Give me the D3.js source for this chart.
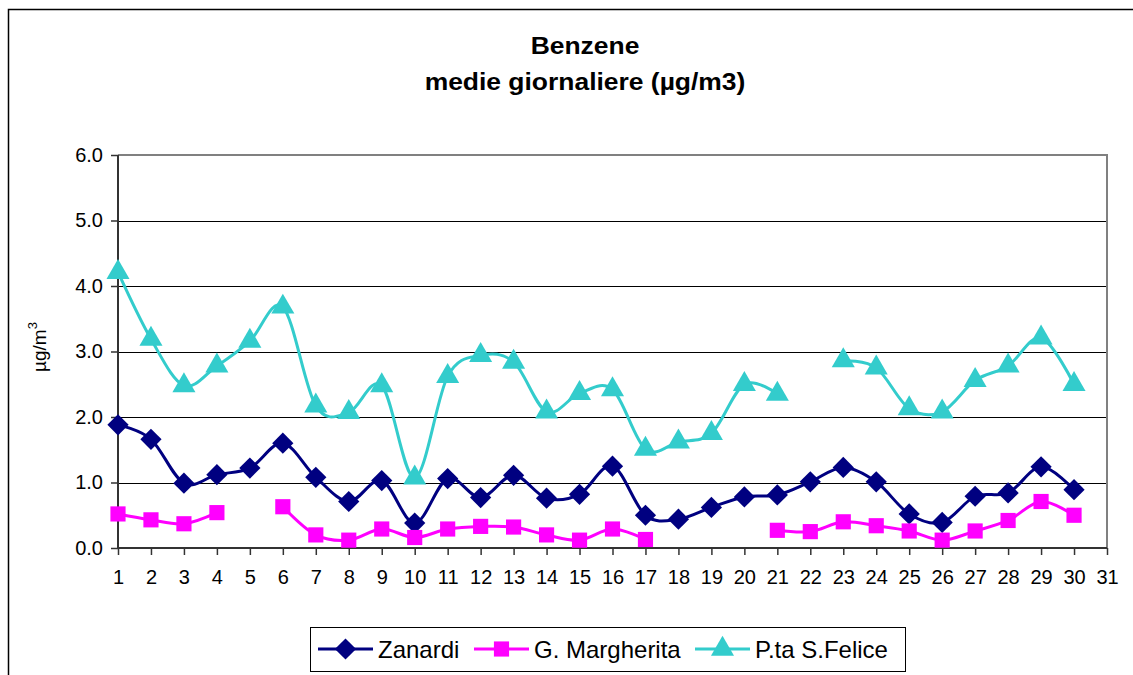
<!DOCTYPE html>
<html>
<head>
<meta charset="utf-8">
<script src="https://cdn.jsdelivr.net/npm/d3@7"></script>
<style>
  body { margin: 0; background: #fff; }
  text { font-family: "Liberation Sans", Arial, sans-serif; }
</style>
</head>
<body>
<svg id="chart" width="1133" height="675"></svg>
<script>
// days of the month on the x axis
var days = d3.range(1, 32);
var yTicks = [0, 1, 2, 3, 4, 5, 6];

var seriesNames = ["Zanardi", "G. Margherita", "P.ta S.Felice"];
var seriesColors = ["#000080", "#ff00ff", "#33cccc"];
var seriesMarkers = ["diamond", "square", "triangle"];

var zanardi = [1.88, 1.66, 0.99, 1.12, 1.22, 1.60, 1.08, 0.71, 1.03, 0.38,
               1.06, 0.77, 1.11, 0.76, 0.82, 1.25, 0.50, 0.44, 0.62, 0.78,
               0.81, 1.01, 1.23, 1.01, 0.52, 0.39, 0.79, 0.84, 1.24, 0.89];
var margherita = [0.52, 0.43, 0.37, 0.54, null, 0.63, 0.20, 0.12, 0.29, 0.16,
                  0.29, 0.33, 0.32, 0.20, 0.12, 0.29, 0.13, null, null, null,
                  0.27, 0.25, 0.40, 0.34, 0.26, 0.12, 0.26, 0.42, 0.71, 0.50];
var sfelice = [4.21, 3.19, 2.48, 2.78, 3.16, 3.68, 2.17, 2.07, 2.48, 1.07,
               2.62, 2.94, 2.84, 2.08, 2.36, 2.42, 1.51, 1.62, 1.75, 2.50,
               2.35, null, 2.86, 2.75, 2.13, 2.08, 2.56, 2.78, 3.21, 2.50];

var allSeries = [zanardi, margherita, sfelice];

var params = {
  "plot": { "left": 118, "right": 1107, "top": 155, "bottom": 548 }
};

var svg = d3.select("#chart");

var scale = {
  "x": d3.scaleLinear().domain([1, 31]).range([params.plot.left, params.plot.right]),
  "y": d3.scaleLinear().domain([0, 6]).range([params.plot.bottom, params.plot.top])
};

// outer chart frame
svg.append("rect")
  .attr("x", 8.5).attr("y", 9.5)
  .attr("width", 1140).attr("height", 700)
  .attr("fill", "none")
  .attr("stroke", "#000")
  .attr("stroke-width", 1.5);

// title
var title = svg.append("text")
  .attr("text-anchor", "middle")
  .attr("font-weight", "bold")
  .attr("font-size", 23)
  .attr("transform", "translate(585,0) scale(1.15,1)");
title.append("tspan").attr("x", 0).attr("y", 54).text("Benzene");
title.append("tspan").attr("x", 0).attr("y", 90).text("medie giornaliere (µg/m3)");

// gridlines
svg.append("g")
  .selectAll("line")
  .data(yTicks.slice(1, -1))
  .enter()
  .append("line")
  .attr("x1", params.plot.left).attr("x2", params.plot.right)
  .attr("y1", function(d) { return Math.round(scale.y(d)) + 0.5; })
  .attr("y2", function(d) { return Math.round(scale.y(d)) + 0.5; })
  .attr("stroke", "#000")
  .attr("stroke-width", 1);

// plot area border (top and right)
svg.append("path")
  .attr("d", "M" + params.plot.left + "," + params.plot.top +
             "H" + params.plot.right + "V" + params.plot.bottom)
  .attr("fill", "none")
  .attr("stroke", "#808080")
  .attr("stroke-width", 2);

// axes
var axis = {
  "x": d3.axisBottom(scale.x).tickValues(days).tickSize(7).tickPadding(15)
         .tickFormat(d3.format("d")),
  "y": d3.axisLeft(scale.y).tickValues(yTicks).tickSize(7).tickPadding(8)
         .tickFormat(d3.format(".1f"))
};

var gx = svg.append("g")
  .attr("transform", "translate(0," + params.plot.bottom + ")")
  .call(axis.x);
var gy = svg.append("g")
  .attr("transform", "translate(" + params.plot.left + ",0)")
  .call(axis.y);

[gx, gy].forEach(function(g) {
  g.select(".domain").attr("stroke", "#333").attr("stroke-width", 2);
  g.selectAll(".tick line").attr("stroke", "#333").attr("stroke-width", 1.5);
  g.selectAll(".tick text").attr("fill", "#000").attr("font-size", 20)
    .attr("font-family", "Liberation Sans, Arial, sans-serif");
});
gx.select(".domain").attr("d", "M" + params.plot.left + ",0H" + params.plot.right);
gy.select(".domain").attr("d", "M0," + params.plot.top + "V" + params.plot.bottom);

// y axis label
var ylab = svg.append("text")
  .attr("transform", "translate(46,347) rotate(-90)")
  .attr("text-anchor", "middle")
  .attr("font-size", 19);
ylab.append("tspan").text("µg/m");
ylab.append("tspan").attr("dy", -9).attr("font-size", 13).text("3");

// markers
function markerPath(type, size) {
  if (type === "diamond") return d3.symbol(d3.symbolDiamond2, size * 1.25)();
  if (type === "square") return d3.symbol(d3.symbolSquare, size)();
  return d3.symbol(d3.symbolTriangle, size)();
}

var line = d3.line()
  .defined(function(d) { return d != null; })
  .x(function(d, i) { return scale.x(i + 1); })
  .y(function(d) { return scale.y(d); })
  .curve(d3.curveCardinal.tension(0));

allSeries.forEach(function(values, s) {
  var g = svg.append("g").attr("class", "series");

  g.append("path")
    .attr("d", line(values))
    .attr("fill", "none")
    .attr("stroke", seriesColors[s])
    .attr("stroke-width", 3);

  g.selectAll("path.marker")
    .data(values.map(function(v, i) { return { "day": i + 1, "value": v }; })
      .filter(function(d) { return d.value != null; }))
    .enter()
    .append("path")
    .attr("class", "marker")
    .attr("d", markerPath(seriesMarkers[s], 230))
    .attr("transform", function(d) {
      return "translate(" + scale.x(d.day) + "," + scale.y(d.value) + ")";
    })
    .attr("fill", seriesColors[s]);
});

// legend
var legend = svg.append("g");
legend.append("rect")
  .attr("x", 310.5).attr("y", 627.5)
  .attr("width", 595).attr("height", 44)
  .attr("fill", "#fff")
  .attr("stroke", "#000")
  .attr("stroke-width", 1);

var legendX = [318, 474, 695];
seriesNames.forEach(function(name, s) {
  var item = legend.append("g").attr("transform", "translate(" + legendX[s] + ",649)");
  item.append("line")
    .attr("x1", 0).attr("x2", 55)
    .attr("stroke", seriesColors[s]).attr("stroke-width", 3);
  item.append("path")
    .attr("d", markerPath(seriesMarkers[s], 230))
    .attr("transform", "translate(27.5,0)")
    .attr("fill", seriesColors[s]);
  item.append("text")
    .attr("x", 60).attr("y", 9)
    .attr("font-size", 24)
    .text(name);
});
</script>
</body>
</html>
